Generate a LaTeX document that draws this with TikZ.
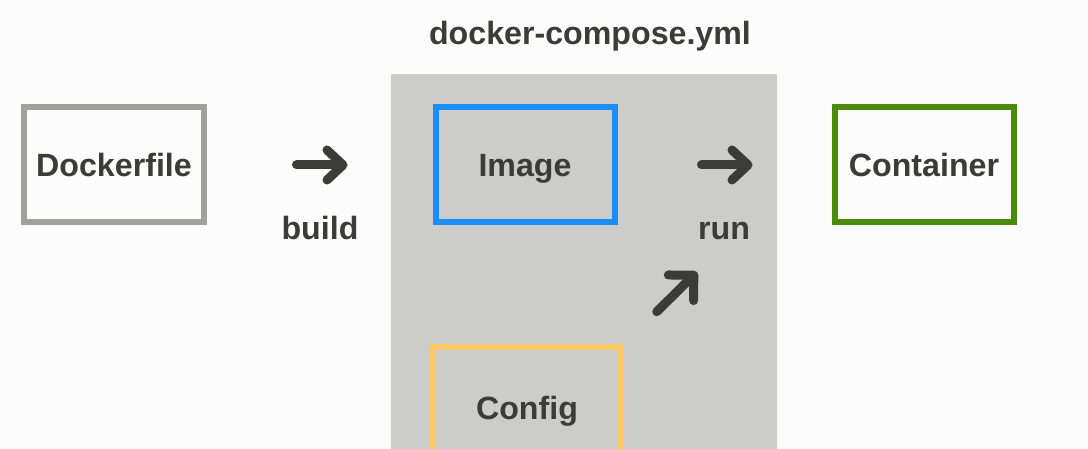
\documentclass[tikz,border=0pt]{standalone}
\usepackage{fontspec}
\setmainfont{Liberation Sans}
\usetikzlibrary{arrows.meta,positioning}
\definecolor{ink}{HTML}{3B3C3A}
\definecolor{paper}{HTML}{FBFCFB}
\definecolor{panel}{HTML}{CCCDCB}
\definecolor{filegray}{HTML}{A0A19F}
\definecolor{imgblue}{HTML}{1C8EF9}
\definecolor{boxgreen}{HTML}{4B8B0B}
\definecolor{cfgyellow}{HTML}{FDC965}
\tikzset{%
	box/.style   = {draw, rectangle, line width=6bp, minimum width=179bp, minimum height=115bp, inner sep=0pt, text height=23bp, text depth=0bp, text=ink, font=\bfseries\fontsize{32.3}{38}\selectfont},
	word/.style  = {anchor=base, inner sep=0pt, text=ink, font=\bfseries\fontsize{32.3}{38}\selectfont},
	arrow/.style = {draw=ink, line width=9bp, line cap=round, -{Straight Barb[length=16bp, width=30bp, round]}},
}
\begin{document}
\begin{tikzpicture}[x=1bp,y=-1bp]
	\useasboundingbox[fill=paper] (0,0) rectangle (1088,449);
	\fill[panel] (391,74) rectangle (777,449); % compose panel
	\node[word] (title) at (590,45) {docker-compose.yml};
	
	\node[box, draw=filegray] (dockerfile) at (114,165) {Dockerfile};
	\node[box, draw=imgblue] (image) at (525,165) {Image};
	\node[box, draw=boxgreen] (container) at (924,165) {Container};
	\node[box, draw=cfgyellow, minimum width=188bp, minimum height=122bp] (config) at (527,408) {Config};
	
	\draw[arrow, shorten <=90bp, shorten >=85bp] (dockerfile) -- (image);
	\node[word] (build) at (320,240) {build};
	\draw[arrow, shorten <=84bp, shorten >=79bp] (image) -- (container);
	\node[word] (run) at (724,240) {run};
	
	\coordinate (runtip) at (697,272);
	\draw[arrow, -{Straight Barb[length=18bp, width=36bp, round]}, shorten <=46bp] (config.north east) -- (runtip);
\end{tikzpicture}
\end{document}
